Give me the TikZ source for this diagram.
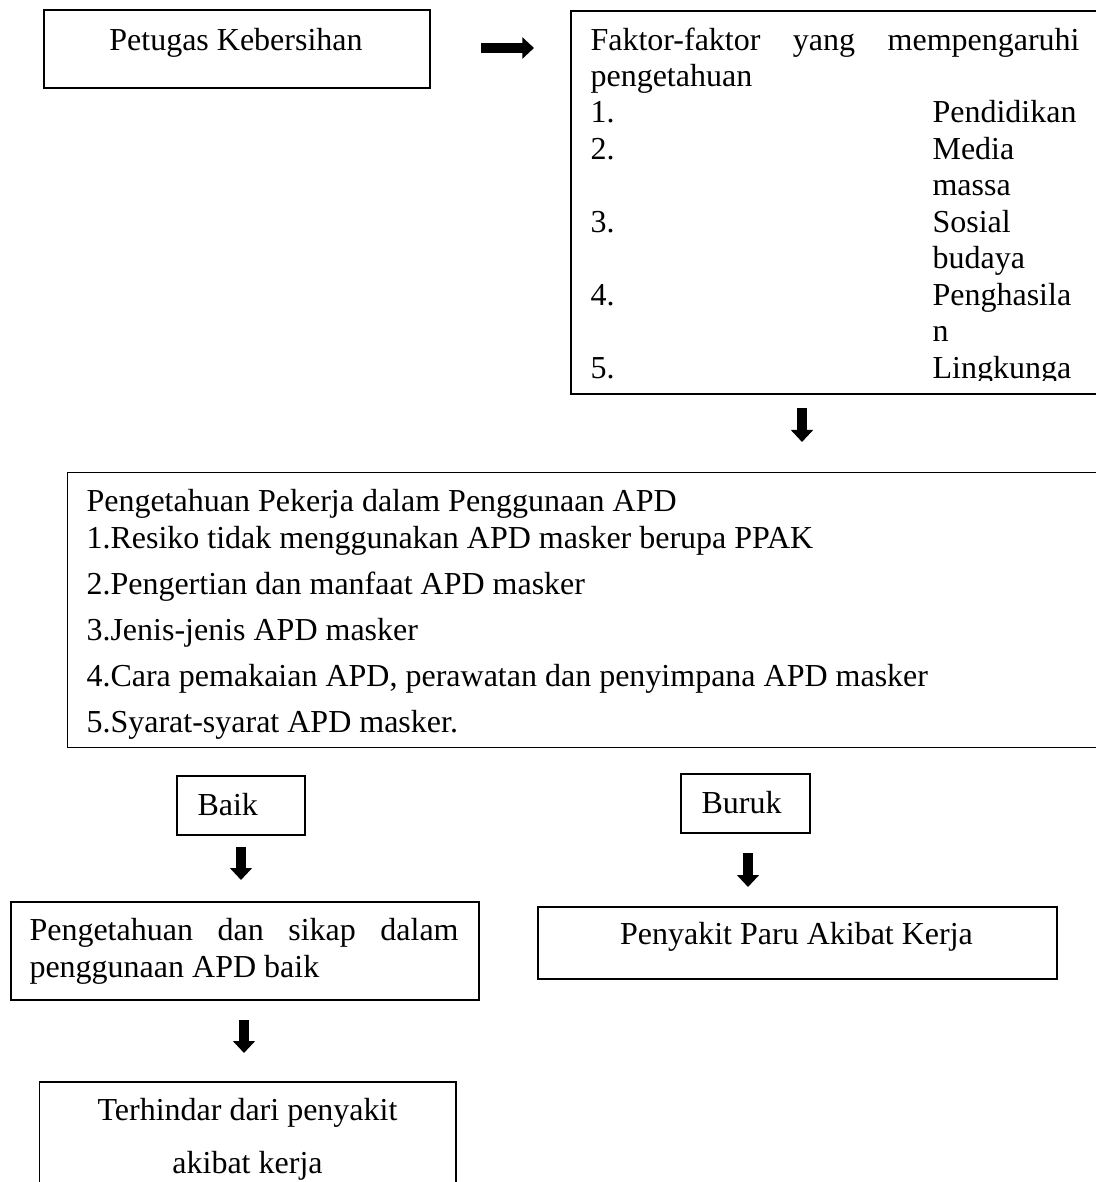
\documentclass[tikz,border=0pt]{standalone}
\usepackage{fontspec}
\setmainfont{Liberation Serif}
\usetikzlibrary{arrows.meta}
\begin{document}
\begin{tikzpicture}[x=0.375pt,y=-0.375pt,
  box/.style={draw,line width=0.6pt,inner sep=0pt,anchor=north west},
  txt/.style={inner sep=0pt,anchor=base west,font=\fontsize{12}{13.7}\selectfont},
  ctxt/.style={inner sep=0pt,anchor=base,font=\fontsize{12}{13.7}\selectfont},
  blockarrow/.style={line width=3.5pt,-{Triangle[length=4.5pt,width=8.1pt]}},
  blockarrowh/.style={line width=3.9pt,-{Triangle[length=4.4pt,width=7.9pt]}}]
\useasboundingbox (0,0) rectangle (1096,1182);
% boxes
\node[box,minimum width=144.75pt,minimum height=29.25pt] (b1) at (43,9) {};
\node[box,minimum width=199.5pt,minimum height=143.6pt] (b2) at (570,10) {};
\node[box,minimum width=388pt,minimum height=103.1pt] (b3) at (66.6,471.7) {};
\node[box,minimum width=48pt,minimum height=22.1pt] (b4) at (176,775) {};
\node[box,minimum width=48.4pt,minimum height=22.1pt] (b5) at (680,773) {};
\node[box,minimum width=175.5pt,minimum height=36.75pt] (b6) at (10,901) {};
\node[box,minimum width=194.6pt,minimum height=27pt] (b7) at (537,906) {};
\node[box,minimum width=156.2pt,minimum height=45pt] (b8) at (38.5,1081) {};
% box 1 text
\node[ctxt] (t1) at (236,51) {Petugas Kebersihan};
% box 2 text
\node[txt] (t2a) at (590,51) {\hbox to 183.4pt{Faktor-faktor\hfill yang\hfill mempengaruhi}};
\node[txt] (t2b) at (590,87) {pengetahuan};
\node[txt] (n1) at (590,123) {1.};
\node[txt] (w1) at (932,123) {Pendidikan};
\node[txt] (n2) at (590,159.5) {2.};
\node[txt] (w2) at (932,159.5) {Media};
\node[txt] (w2b) at (932,196) {massa};
\node[txt] (n3) at (590,232.5) {3.};
\node[txt] (w3) at (932,232.5) {Sosial};
\node[txt] (w3b) at (932,269) {budaya};
\node[txt] (n4) at (590,305.5) {4.};
\node[txt] (w4) at (932,305.5) {Penghasila};
\node[txt] (w4b) at (932,342) {n};
\begin{scope}
\clip (575,340) rectangle (1096,381);
\node[txt] (n5) at (590,378.5) {5.};
\node[txt] (w5) at (932,378.5) {Lingkunga};
\end{scope}
% box 3 text
\node[txt] (t3a) at (86,511.7) {Pengetahuan Pekerja dalam Penggunaan APD};
\node[txt] (t3b) at (86,548) {1.Resiko tidak menggunakan APD masker berupa PPAK};
\node[txt] (t3c) at (86,594) {2.Pengertian dan manfaat APD masker};
\node[txt] (t3d) at (86,640) {3.Jenis-jenis APD masker};
\node[txt] (t3e) at (86,686) {4.Cara pemakaian APD, perawatan dan penyimpana APD masker};
\node[txt] (t3f) at (86,732) {5.Syarat-syarat APD masker.};
% small boxes
\node[txt] (t4) at (197,815) {Baik};
\node[txt] (t5) at (701,813) {Buruk};
\node[txt] (t6a) at (29,940) {\hbox to 160.9pt{Pengetahuan\hfill dan\hfill sikap\hfill dalam}};
\node[txt] (t6b) at (29,977) {penggunaan APD baik};
\node[ctxt] (t7) at (796.5,944) {Penyakit Paru Akibat Kerja};
\node[ctxt] (t8a) at (247.5,1120) {Terhindar dari penyakit};
\node[ctxt] (t8b) at (247.5,1173) {akibat kerja};
% arrows
\coordinate (a1s) at (481,48); \coordinate (a1e) at (534,48);
\coordinate (a2s) at (802,408); \coordinate (a2e) at (802,442);
\coordinate (a3s) at (241,847); \coordinate (a3e) at (241,880);
\coordinate (a4s) at (748,853); \coordinate (a4e) at (748,887);
\coordinate (a5s) at (244,1020); \coordinate (a5e) at (244,1053);
\draw[blockarrowh] (a1s) -- (a1e);
\draw[blockarrow] (a2s) -- (a2e);
\draw[blockarrow] (a3s) -- (a3e);
\draw[blockarrow] (a4s) -- (a4e);
\draw[blockarrow] (a5s) -- (a5e);
\end{tikzpicture}
\end{document}
